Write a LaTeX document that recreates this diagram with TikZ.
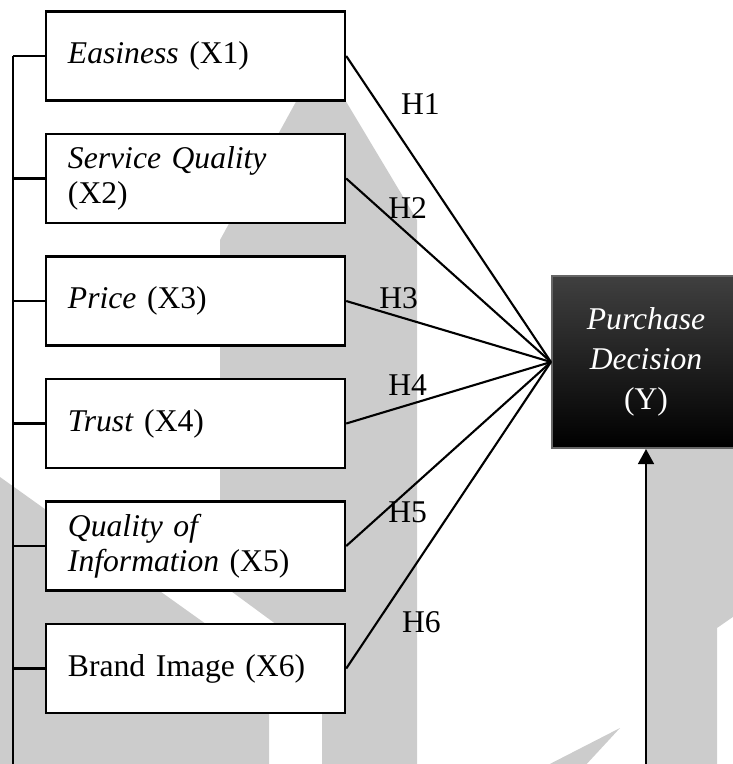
\documentclass[tikz,border=0pt]{standalone}
\usepackage{fontspec}
\setmainfont{Liberation Serif}
\usetikzlibrary{arrows.meta}
\tikzset{
block/.style = {draw, fill=white, line width=1.4pt, minimum height=17.8mm,
                text width=51mm, inner xsep=4.4mm, align=left,
                font=\fontsize{18}{20}\selectfont},
decbox/.style = {draw=black!60, top color=black!75, middle color=black,
                bottom color=black, text=white, minimum width=37.6mm,
                minimum height=34.4mm, align=center,
                font=\fontsize{18}{22.7}\selectfont},
input/.style = {coordinate},
hyp/.style = {font=\fontsize{18}{20}\selectfont},
wmark/.style = {fill=black!20, draw=none}
}
\begin{document}
\begin{tikzpicture}[x=0.2mm, y=-0.2mm, line width=1.2pt,
    >={Triangle[length=8.5pt, width=9pt]}]

    \useasboundingbox (0,0) rectangle (733,764);

    % watermark in the back
    \fill [wmark] (320,58) -- (417,220) -- (417,768) -- (322,768) -- (322,658)
        -- (220,583) -- (220,240) -- cycle;
    \fill [wmark] (0,477) -- (269,669) -- (269,768) -- (0,768) -- cycle;
    \fill [wmark] (645,440) -- (740,440) -- (740,612) -- (717,628) -- (717,768)
        -- (645,768) -- cycle;
    \fill [wmark] (620,728) -- (583,768) -- (542,768) -- cycle;

    \node [block, name=x1] (x1) at (195.5,56) {\textit{Easiness} (X1)};
    \node [block, name=x2, below of=x1, node distance=24.5mm] (x2)
    {\textit{Service Quality}\\(X2)};
    \node [block, name=x3, below of=x2, node distance=24.5mm] (x3)
    {\textit{Price} (X3)};
    \node [block, name=x4, below of=x3, node distance=24.5mm] (x4)
    {\textit{Trust} (X4)};
    \node [block, name=x5, below of=x4, node distance=24.5mm] (x5)
    {\textit{Quality of}\\\textit{Information} (X5)};
    \node [block, name=x6, below of=x5, node distance=24.5mm] (x6)
    {Brand Image (X6)};

    % spine on the left
    \node [input, name=x1l, left of=x1, node distance=36.5mm] (x1l) {};
    \node [input, name=x2l, left of=x2, node distance=36.5mm] (x2l) {};
    \node [input, name=x3l, left of=x3, node distance=36.5mm] (x3l) {};
    \node [input, name=x4l, left of=x4, node distance=36.5mm] (x4l) {};
    \node [input, name=x5l, left of=x5, node distance=36.5mm] (x5l) {};
    \node [input, name=x6l, left of=x6, node distance=36.5mm] (x6l) {};
    \node [input, name=spinebot, below of=x6l, node distance=20mm] (spinebot) {};

    \draw (x1l) -- (spinebot);
    \draw (x1l) -- (x1);
    \draw (x2l) -- (x2);
    \draw (x3l) -- (x3);
    \draw (x4l) -- (x4);
    \draw (x5l) -- (x5);
    \draw (x6l) -- (x6);

    \node [input, name=mid, below of=x3, node distance=12.2mm] (mid) {};
    \node [decbox, name=dec, right of=mid, node distance=90.1mm] (dec)
    {\textit{Purchase}\\\textit{Decision}\\(Y)};

    \draw (x1.east) -- node [hyp, pos=0.362, yshift=12.6mm] {H1} (dec.west);
    \draw (x2.east) -- node [hyp, pos=0.30, yshift=5.2mm] {H2} (dec.west);
    \draw (x3.east) -- node [hyp, pos=0.256, yshift=3.6mm] {H3} (dec.west);
    \draw (x4.east) -- node [hyp, pos=0.30, yshift=3.9mm] {H4} (dec.west);
    \draw (x5.east) -- node [hyp, pos=0.30, yshift=-4.3mm] {H5} (dec.west);
    \draw (x6.east) -- node [hyp, pos=0.367, yshift=-13.2mm] {H6} (dec.west);

    \node [input, name=decin, below of=dec, node distance=81mm] (decin) {};
    \draw [->] (decin) -- (dec);

\end{tikzpicture}
\end{document}
